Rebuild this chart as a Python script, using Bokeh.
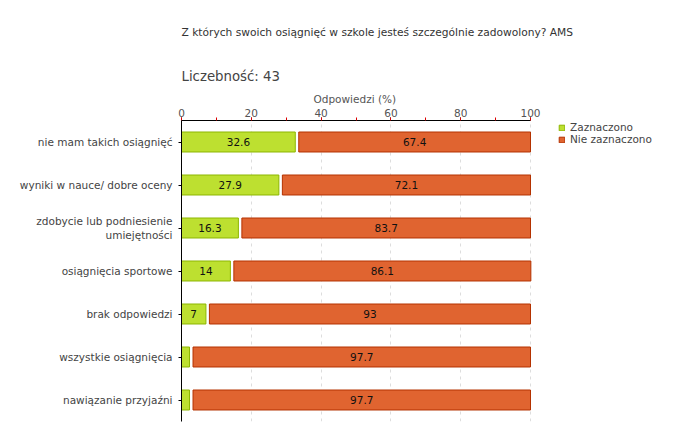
from bokeh.plotting import figure
from bokeh.models import (ColumnDataSource, Range1d, FactorRange, SingleIntervalTicker,
                          Legend, LegendItem, Title)
from bokeh.core.properties import value
from bokeh.embed import file_html
from bokeh.resources import INLINE

# ---- data ----
categories = ["nie mam takich osiągnięć", "wyniki w nauce/ dobre oceny",
              "zdobycie lub podniesienie\numiejętności", "osiągnięcia sportowe",
              "brak odpowiedzi", "wszystkie osiągnięcia", "nawiązanie przyjaźni"]
zaznaczono = [32.6, 27.9, 16.3, 14, 7, 2.3, 2.3]
nie_zaznaczono = [67.4, 72.1, 83.7, 86.1, 93, 97.7, 97.7]
series_names = ["Zaznaczono", "Nie zaznaczono"]
x_tick_step = 20
x_axis_end = 100
title_text = "Z których swoich osiągnięć w szkole jesteś szczególnie zadowolony? AMS"
count_text = "Liczebność: 43"
x_label = "Odpowiedzi (%)"

# ---- styles / layout ----
FONT = "DejaVu Sans"
FS = "10.5px"
GREEN, GREEN_LINE = "#bde030", "#8db600"
ORANGE, ORANGE_LINE = "#e06430", "#b43200"
GAP = 1.0          # visual gap between the two segments (in % units)
BAR_H = 0.465
MIN_LABEL = 5
W, H = 664, 424
LEFT, TOP, BOTTOM = 181, 120, 3
AXIS_PX = 349      # pixel length of the 0..100 axis
frame_w = W - LEFT
frame_h = H - TOP - BOTTOM
x_view_max = x_axis_end * frame_w / AXIS_PX   # extra room on the right holds the legend

o_left = [z + GAP for z in zaznaczono]
o_right = [z + o for z, o in zip(zaznaczono, nie_zaznaczono)]
src = ColumnDataSource(dict(cat=categories, z=zaznaczono, o=nie_zaznaczono,
                            o_left=o_left, o_right=o_right,
                            z_mid=[z / 2 for z in zaznaczono],
                            o_mid=[(a + b) / 2 for a, b in zip(o_left, o_right)],
                            z_txt=[(f"{z:g}" if z >= MIN_LABEL else "") for z in zaznaczono],
                            o_txt=[f"{o:g}" for o in nie_zaznaczono]))

p = figure(width=W, height=H, output_backend="svg", toolbar_location=None,
           x_range=Range1d(0, x_view_max), y_range=FactorRange(factors=list(reversed(categories))),
           x_axis_location="above",
           min_border_left=LEFT, min_border_right=0, min_border_top=TOP, min_border_bottom=BOTTOM)
p.outline_line_color = None

r1 = p.hbar(y="cat", left=0, right="z", height=BAR_H, source=src,
            fill_color=GREEN, line_color=GREEN_LINE, line_width=1)
r2 = p.hbar(y="cat", left="o_left", right="o_right", height=BAR_H, source=src,
            fill_color=ORANGE, line_color=ORANGE_LINE, line_width=1)

p.text(x="z_mid", y="cat", text="z_txt", source=src, text_align="center",
       text_baseline="middle", text_font=value(FONT), text_font_size=FS, text_color="#111")
p.text(x="o_mid", y="cat", text="o_txt", source=src, text_align="center",
       text_baseline="middle", text_font=value(FONT), text_font_size=FS, text_color="#111")

# axes
xa = p.xaxis[0]
xa.bounds = (0, x_axis_end)
xa.ticker = SingleIntervalTicker(interval=x_tick_step, num_minor_ticks=2)
xa.major_label_text_font = FONT
xa.major_label_text_font_size = FS
xa.major_label_text_color = "#555555"
xa.major_label_standoff = 1
xa.major_tick_out = 3
xa.major_tick_in = 0
xa.minor_tick_out = 3
xa.minor_tick_in = 0
xa.minor_tick_line_color = "#dd0000"
xa.axis_line_color = "black"

ya = p.yaxis[0]
ya.major_label_text_font = FONT
ya.major_label_text_font_size = FS
ya.major_label_text_color = "#444444"
ya.major_label_standoff = 6
ya.major_tick_out = 3
ya.major_tick_in = 0
ya.axis_line_color = "black"

p.ygrid.grid_line_color = None
p.xgrid.grid_line_color = "#dddddd"
p.xgrid.grid_line_dash = "3 4"
p.xgrid.bounds = (0, x_axis_end)

# x-axis title, centred over the 0..100 axis (not over the whole frame)
xlab = Title(text=x_label, align="left", offset=132, text_font=FONT, text_font_size=FS,
             text_font_style="normal", text_color="#555555", standoff=2)
p.add_layout(xlab, "above")

# titles
sub = Title(text=count_text, align="left", text_font=FONT, text_font_size="13.3px",
            text_font_style="normal", text_color="#444444", standoff=11)
p.add_layout(sub, "above")
p.title.text = title_text
p.title.align = "left"
p.title.text_font = FONT
p.title.text_font_size = "10.67px"
p.title.text_font_style = "normal"
p.title.text_color = "#333333"
p.title.standoff = 45

legend = Legend(items=[LegendItem(label=series_names[0], renderers=[r1]),
                       LegendItem(label=series_names[1], renderers=[r2])],
                location=(377, frame_h - 25), glyph_width=7, glyph_height=7, label_height=12,
                label_text_font=FONT, label_text_font_size=FS, label_text_color="#444444",
                spacing=0, padding=0, margin=0, border_line_color=None,
                background_fill_alpha=0, label_standoff=5)
p.add_layout(legend, "center")

open("out.html", "w").write(file_html(p, INLINE))
